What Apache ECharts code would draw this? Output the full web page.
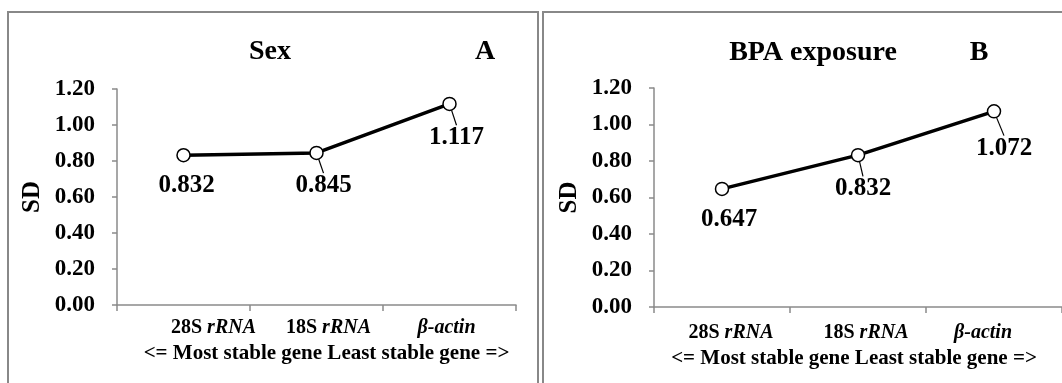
<!DOCTYPE html>
<html>
<head>
<meta charset="utf-8">
<script src="https://cdn.jsdelivr.net/npm/echarts@6/dist/echarts.min.js"></script>
<style>
html,body{margin:0;padding:0;background:#fff;}
#chart{width:1062px;height:383px;}
</style>
</head>
<body>
<div id="chart"></div>
<script>
// ---- data ----
const categories = ['28S rRNA', '18S rRNA', 'β-actin'];
const sexSD = [0.832, 0.845, 1.117];
const bpaSD = [0.647, 0.832, 1.072];
const yMin = 0, yMax = 1.2, yInterval = 0.2;
const panelTitles = ['Sex', 'BPA exposure'];
const panelLetters = ['A', 'B'];
const xAxisName = '<= Most stable gene Least stable gene =>';
const yAxisName = 'SD';

// ---- styling (not data) ----
const FONT = "'Liberation Serif', 'Times New Roman', serif";
const AXIS_COLOR = '#8a8a8a';
const CAT_SIZE = 20;
const labelShift = [[30, 12, -3], [9, 8, -11]];          // category label horizontal shifts
const dataLabelOffset = [[[3, 6], [7, 8], [7, 9]], [[7, 6], [5, 9], [10, 12]]];
const namePadding = [[0, 0, 0, 20], [0, 8, 0, 0]];

function catRich(panel) {
  const rich = {};
  labelShift[panel].forEach((s, i) => {
    const padL = s > 0 ? 2 * s : 0, padR = s < 0 ? -2 * s : 0;
    rich['n' + i] = {fontFamily: FONT, fontWeight: 'bold', fontSize: CAT_SIZE, color: '#000', padding: [0, 0, 0, padL]};
    rich['i' + i] = {fontFamily: FONT, fontWeight: 'bold', fontStyle: 'italic', fontSize: CAT_SIZE, color: '#000', padding: [0, padR, 0, 0]};
    rich['iL' + i] = {fontFamily: FONT, fontWeight: 'bold', fontStyle: 'italic', fontSize: CAT_SIZE, color: '#000', padding: [0, padR, 0, padL]};
  });
  return rich;
}
function catFormatter(v, i) {
  const sp = v.indexOf(' ');
  if (sp < 0) return '{iL' + i + '|' + v + '}';
  return '{n' + i + '|' + v.slice(0, sp + 1) + '}{i' + i + '|' + v.slice(sp + 1) + '}';
}

const grids = [
  {left: 117, top: 89, width: 399, height: 216},
  {left: 654, top: 88, width: 412, height: 219}
];
const nameGaps = [37, 41];
const labelMargins = [13, 16];

function makeX(panel) {
  return {
    type: 'category', gridIndex: panel, data: categories, boundaryGap: true,
    axisLine: {show: true, lineStyle: {color: AXIS_COLOR, width: 1.5}},
    axisTick: {show: true, length: 6, lineStyle: {color: AXIS_COLOR, width: 1.5}},
    axisLabel: {margin: labelMargins[panel], formatter: catFormatter, rich: catRich(panel)},
    name: xAxisName, nameLocation: 'middle', nameGap: nameGaps[panel],
    nameTextStyle: {fontFamily: FONT, fontWeight: 'bold', fontSize: 21, color: '#000', padding: namePadding[panel]},
    splitLine: {show: false}
  };
}
function makeY(panel) {
  return {
    type: 'value', gridIndex: panel, min: yMin, max: yMax, interval: yInterval,
    axisLine: {show: true, lineStyle: {color: AXIS_COLOR, width: 1.5}},
    axisTick: {show: true, length: 5, lineStyle: {color: AXIS_COLOR, width: 1.5}},
    axisLabel: {margin: 22, fontFamily: FONT, fontWeight: 'bold', fontSize: 23, color: '#000',
      formatter: v => v.toFixed(2)},
    splitLine: {show: false},
    name: yAxisName, nameLocation: 'middle', nameGap: 72, nameRotate: 90,
    nameTextStyle: {fontFamily: FONT, fontWeight: 'bold', fontSize: 25, color: '#000'}
  };
}
function makeSeries(panel, values) {
  return {
    type: 'line', xAxisIndex: panel, yAxisIndex: panel,
    data: values.map((v, i) => ({value: v, labelLine: {show: i > 0}})),
    symbol: 'circle', symbolSize: 13,
    itemStyle: {color: '#fff', borderColor: '#000', borderWidth: 1.5},
    lineStyle: {color: '#000', width: 3.5},
    label: {show: true, position: 'bottom', distance: 5, fontFamily: FONT, fontWeight: 'bold',
      fontSize: 25, color: '#000', formatter: p => p.value.toFixed(3)},
    labelLine: {show: true, lineStyle: {color: '#000', width: 1.2}},
    labelLayout: p => ({dx: dataLabelOffset[panel][p.dataIndex][0], dy: dataLabelOffset[panel][p.dataIndex][1]}),
    z: 3, animation: false
  };
}

const chart = echarts.init(document.getElementById('chart'), null, {renderer: 'canvas'});
chart.setOption({
  backgroundColor: '#fff',
  animation: false,
  grid: grids,
  xAxis: [makeX(0), makeX(1)],
  yAxis: [makeY(0), makeY(1)],
  series: [makeSeries(0, sexSD), makeSeries(1, bpaSD)],
  graphic: [
    {type: 'rect', shape: {x: 8, y: 12, width: 530, height: 420}, style: {fill: 'none', stroke: '#888', lineWidth: 2}, silent: true},
    {type: 'rect', shape: {x: 543, y: 12, width: 600, height: 420}, style: {fill: 'none', stroke: '#888', lineWidth: 2}, silent: true},
    {type: 'text', x: 270, y: 52, style: {text: panelTitles[0], font: "bold 28px " + FONT, fill: '#000', textAlign: 'center', textVerticalAlign: 'middle'}},
    {type: 'text', x: 485, y: 52, style: {text: panelLetters[0], font: "bold 28px " + FONT, fill: '#000', textAlign: 'center', textVerticalAlign: 'middle'}},
    {type: 'text', x: 813, y: 53, style: {text: panelTitles[1], font: "bold 28px " + FONT, fill: '#000', textAlign: 'center', textVerticalAlign: 'middle'}},
    {type: 'text', x: 979, y: 53, style: {text: panelLetters[1], font: "bold 28px " + FONT, fill: '#000', textAlign: 'center', textVerticalAlign: 'middle'}}
  ]
});
</script>
</body>
</html>
